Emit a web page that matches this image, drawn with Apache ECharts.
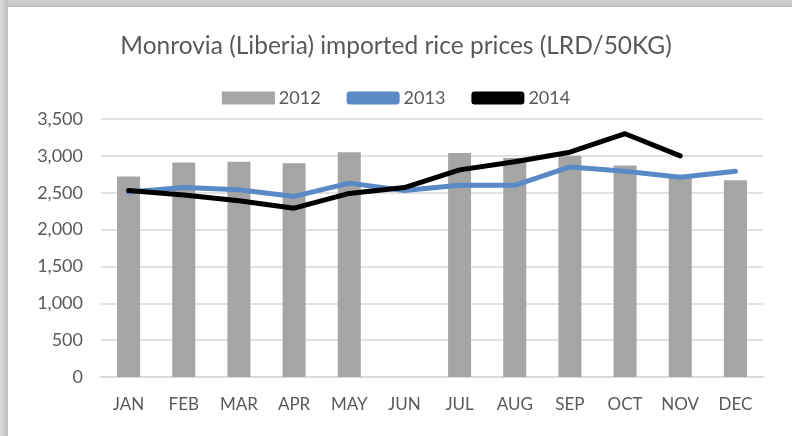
<!DOCTYPE html>
<html>
<head>
<meta charset="utf-8">
<script src="https://cdn.jsdelivr.net/npm/echarts@6/dist/echarts.min.js"></script>
<style>html,body{margin:0;padding:0;background:#fff}#c{width:792px;height:436px}</style>
</head>
<body>
<div id="c"></div>
<script>
const categories = ['JAN','FEB','MAR','APR','MAY','JUN','JUL','AUG','SEP','OCT','NOV','DEC'];
const values2012 = [2720, 2910, 2920, 2900, 3050, null, 3040, 2970, 3000, 2870, 2720, 2670];
const values2013 = [2510, 2570, 2540, 2450, 2630, 2530, 2600, 2600, 2850, 2790, 2710, 2790];
const values2014 = [2530, 2470, 2390, 2290, 2490, 2570, 2810, 2920, 3050, 3300, 3000, null];
const yTicks = [0, 500, 1000, 1500, 2000, 2500, 3000, 3500];

const FONT = 'Lato';
const chart = echarts.init(document.getElementById('c'));
chart.setOption({
  animation: false,
  backgroundColor: '#fff',
  title: {
    text: 'Monrovia (Liberia) imported rice prices (LRD/50KG)',
    left: 'center', top: 29,
    textStyle: { fontFamily: FONT, fontSize: 24.5, fontWeight: 'normal', color: '#595959' }
  },
  legend: {
    top: 84, left: 'center', itemGap: 26, itemWidth: 53, itemHeight: 13,
    textStyle: { fontFamily: FONT, fontSize: 18, color: '#595959', padding: [0,0,0,-1] },
    data: [
      { name: '2012', icon: 'rect' },
      { name: '2013', icon: 'roundRect', itemStyle: { color: '#5a8ac6' } },
      { name: '2014', icon: 'roundRect', itemStyle: { color: '#000' } }
    ]
  },
  grid: { left: 101, right: 29, top: 119, bottom: 59 },
  xAxis: {
    type: 'category', data: categories,
    axisLine: { lineStyle: { color: '#d9d9d9', width: 1.5 } },
    axisTick: { show: false },
    axisLabel: { fontFamily: FONT, fontSize: 17, color: '#595959', margin: 19 }
  },
  yAxis: {
    type: 'value', min: 0, max: 3500, interval: 500,
    axisLine: { show: false }, axisTick: { show: false },
    splitLine: { lineStyle: { color: '#d9d9d9', width: 1.5 } },
    axisLabel: {
      fontFamily: FONT, fontSize: 18, color: '#595959', margin: 18,
      formatter: v => yTicks.includes(v) ? v.toLocaleString('en-US') : ''
    }
  },
  series: [
    { name: '2012', type: 'bar', data: values2012, barWidth: 23, itemStyle: { color: '#a5a5a5' } },
    { name: '2013', type: 'line', data: values2013, symbol: 'none', lineStyle: { color: '#5a8ac6', width: 5, cap: 'round', join: 'round' }, itemStyle: { color: '#5a8ac6' } },
    { name: '2014', type: 'line', data: values2014, symbol: 'none', lineStyle: { color: '#000', width: 5, cap: 'round', join: 'round' }, itemStyle: { color: '#000' } }
  ],
  graphic: [
    { type: 'rect', shape: { x: 0, y: 0, width: 792, height: 7 }, style: { fill: new echarts.graphic.LinearGradient(0,0,0,1,[{offset:0,color:'#d0d0d0'},{offset:1,color:'#c4c4c4'}]) }, z: 100 },
    { type: 'rect', shape: { x: 0, y: 0, width: 8, height: 436 }, style: { fill: new echarts.graphic.LinearGradient(0,0,1,0,[{offset:0,color:'#dcdcdc'},{offset:1,color:'#bdbdbd'}]) }, z: 100 }
  ]
});
</script>
</body>
</html>
